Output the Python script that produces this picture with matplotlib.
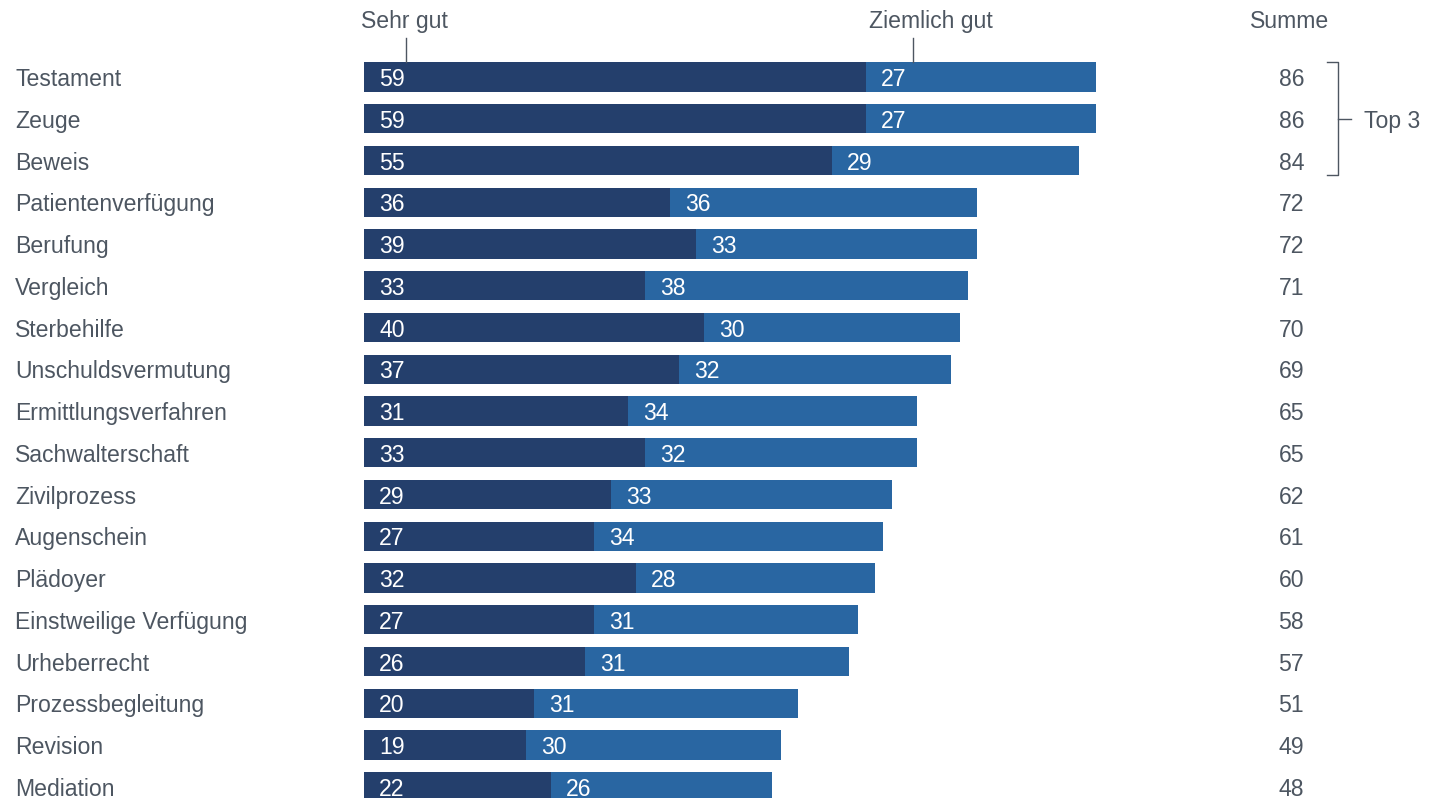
import matplotlib.pyplot as plt
import numpy as np

plt.rcParams['font.family'] = ['Liberation Sans', 'DejaVu Sans']

categories = ['Testament', 'Zeuge', 'Beweis', 'Patientenverfügung', 'Berufung',
              'Vergleich', 'Sterbehilfe', 'Unschuldsvermutung', 'Ermittlungsverfahren',
              'Sachwalterschaft', 'Zivilprozess', 'Augenschein', 'Plädoyer',
              'Einstweilige Verfügung', 'Urheberrecht', 'Prozessbegleitung',
              'Revision', 'Mediation']
sehr_gut = [59, 59, 55, 36, 39, 33, 40, 37, 31, 33, 29, 27, 32, 27, 26, 20, 19, 22]
ziemlich_gut = [27, 27, 29, 36, 33, 38, 30, 32, 34, 32, 33, 34, 28, 31, 31, 31, 30, 26]
summe = [86, 86, 84, 72, 72, 71, 70, 69, 65, 65, 62, 61, 60, 58, 57, 51, 49, 48]

dark = '#243f6c'
light = '#2966a2'
grey = '#4d5661'

W, H = 1435, 798
px = 8.51            # pixels per percent
x0 = 364             # pixel of x = 0
y0, dy = 77, 41.75   # first row centre, row spacing in pixels

fig = plt.figure(figsize=(W / 100, H / 100), dpi=100)
ax = fig.add_axes([0, 0, 1, 1])
ax.set_xlim(-x0 / px, (W - x0) / px)
ax.set_ylim((H - y0) / dy, -y0 / dy)
ax.axis('off')

def to_x(p):
    return (p - x0) / px

def to_y(p):
    return (p - y0) / dy

y = np.arange(len(categories))
ax.barh(y, sehr_gut, height=0.7, color=dark)
ax.barh(y, ziemlich_gut, left=sehr_gut, height=0.7, color=light)

fs = 16.6
off = 0.06  # nudge text down so digits/caps sit centred on the row
for i, (a, b, s) in enumerate(zip(sehr_gut, ziemlich_gut, summe)):
    ax.text(to_x(15), i + off, categories[i], ha='left', va='center', fontsize=fs, color=grey)
    ax.text(15 / px, i + off, str(a), ha='left', va='center', fontsize=fs, color='white')
    ax.text(a + 15 / px, i + off, str(b), ha='left', va='center', fontsize=fs, color='white')
    ax.text(to_x(1304), i + off, str(s), ha='right', va='center', fontsize=fs, color=grey)

# column headers
ax.text(to_x(404), to_y(21), 'Sehr gut', ha='center', va='center', fontsize=fs, color=grey)
ax.plot([to_x(406)] * 2, [to_y(38), to_y(62)], color=grey, lw=1)
ax.text(to_x(931), to_y(21), 'Ziemlich gut', ha='center', va='center', fontsize=fs, color=grey)
ax.plot([to_x(913)] * 2, [to_y(38), to_y(62)], color=grey, lw=1)
ax.text(to_x(1290), to_y(21), 'Summe', ha='center', va='center', fontsize=fs, color=grey)

# bracket around the top three
bx = to_x(1338)
ax.plot([to_x(1327), bx, bx, to_x(1327)],
        [to_y(62), to_y(62), to_y(175), to_y(175)], color=grey, lw=1)
ax.plot([bx, to_x(1351)], [1, 1], color=grey, lw=1)
ax.text(to_x(1364), 1 + off, 'Top 3', ha='left', va='center', fontsize=fs, color=grey)

fig.savefig('out.png', dpi=100)
